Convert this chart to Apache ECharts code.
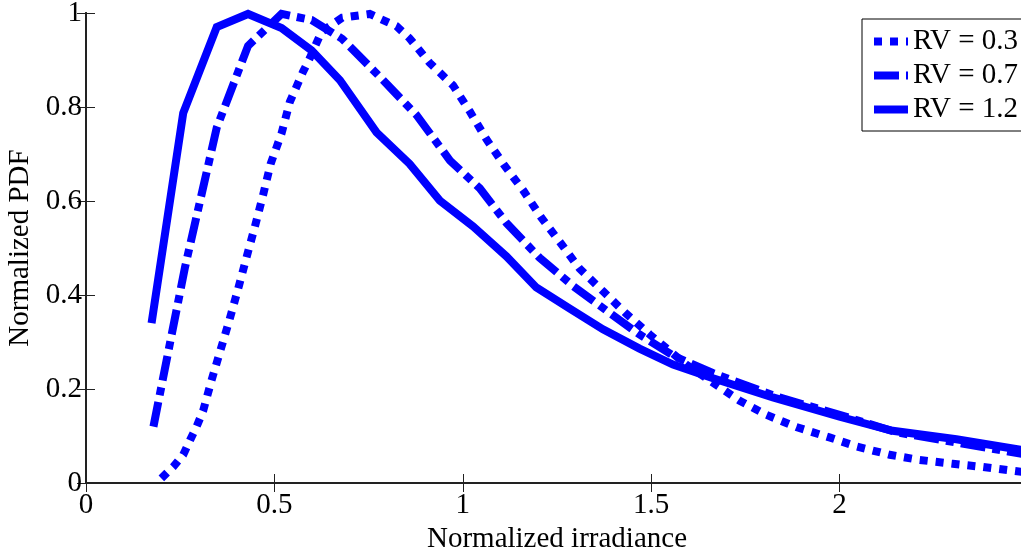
<!DOCTYPE html>
<html>
<head>
<meta charset="utf-8">
<script src="https://cdn.jsdelivr.net/npm/echarts@6/dist/echarts.min.js"></script>
<style>
html,body{margin:0;padding:0;background:#fff;}
#chart{width:1021px;height:548px;}
</style>
</head>
<body>
<div id="chart"></div>
<script>
// ---- Data ----
const seriesNames = ['RV = 0.3', 'RV = 0.7', 'RV = 1.2'];
const xTicks = [0, 0.5, 1, 1.5, 2, 2.5];
const yTicks = [0, 0.2, 0.4, 0.6, 0.8, 1];

const rv03X = [0.2, 0.232, 0.258, 0.276, 0.294, 0.311, 0.333, 0.357, 0.38, 0.404, 0.426, 0.448, 0.47, 0.49, 0.519, 0.541, 0.576, 0.594, 0.625, 0.68, 0.753, 0.824, 0.859, 0.912, 0.974, 1.019, 1.063, 1.111, 1.16, 1.209, 1.262, 1.31, 1.372, 1.434, 1.496, 1.558, 1.593, 1.735, 1.806, 1.885, 1.973, 2.044, 2.133, 2.212, 2.3, 2.38, 2.5];
const rv03Y = [0.01, 0.035, 0.06, 0.091, 0.121, 0.154, 0.218, 0.283, 0.345, 0.414, 0.48, 0.545, 0.613, 0.679, 0.744, 0.811, 0.875, 0.904, 0.96, 0.99, 0.998, 0.972, 0.946, 0.894, 0.846, 0.79, 0.731, 0.675, 0.623, 0.564, 0.508, 0.456, 0.408, 0.36, 0.316, 0.275, 0.252, 0.175, 0.145, 0.119, 0.097, 0.078, 0.06, 0.049, 0.041, 0.034, 0.022];

const rv07X = [0.179, 0.263, 0.347, 0.43, 0.519, 0.599, 0.68, 0.78, 0.877, 0.966, 1.045, 1.116, 1.204, 1.293, 1.381, 1.469, 1.558, 1.663, 1.84, 2.0, 2.15, 2.31, 2.5];
const rv07Y = [0.12, 0.46, 0.756, 0.93, 0.998, 0.985, 0.945, 0.864, 0.783, 0.686, 0.627, 0.553, 0.479, 0.419, 0.367, 0.316, 0.271, 0.234, 0.182, 0.145, 0.108, 0.086, 0.06];

const rv12X = [0.174, 0.258, 0.347, 0.43, 0.519, 0.599, 0.674, 0.771, 0.859, 0.939, 1.027, 1.116, 1.195, 1.284, 1.372, 1.469, 1.558, 1.664, 1.823, 2.0, 2.141, 2.31, 2.5];
const rv12Y = [0.34, 0.787, 0.97, 0.998, 0.968, 0.92, 0.857, 0.746, 0.679, 0.601, 0.546, 0.482, 0.416, 0.371, 0.327, 0.286, 0.252, 0.223, 0.182, 0.141, 0.111, 0.093, 0.068];

// ---- Build ----
const zip = (xs, ys) => xs.map((x, i) => [x, ys[i]]);
const FONT = 'Liberation Serif';
const FS = 29;
const BLUE = '#0000ff';
const axisLineStyle = { color: '#222', width: 2 };
const tickStyle = { color: '#222', width: 1 };

function mkSeries(name, data, type) {
  return {
    name: name, type: 'line', data: data,
    showSymbol: false, symbol: 'none',
    lineStyle: { color: BLUE, width: 8, type: type, cap: 'butt', join: 'miter' },
    itemStyle: { color: BLUE },
    emphasis: { disabled: true },
    animation: false
  };
}

const chart = echarts.init(document.getElementById('chart'));
chart.setOption({
  animation: false,
  grid: { left: 86, top: 13, bottom: 65, right: -7, outerBoundsMode: 'none', containLabel: false },
  legend: {
    orient: 'vertical', left: 862, top: 19,
    padding: [8, 30, 7, 8],
    itemWidth: 34, itemHeight: 10, itemGap: 5,
    borderColor: '#000', borderWidth: 1,
    backgroundColor: '#fff',
    itemStyle: { opacity: 0, borderWidth: 0 },
    lineStyle: { width: 8, cap: 'butt', color: BLUE },
    textStyle: { fontFamily: FONT, fontSize: FS, color: '#000', lineHeight: 29 },
    data: seriesNames
  },
  xAxis: [{
    type: 'value', min: xTicks[0], max: xTicks[xTicks.length - 1], interval: 0.5,
    name: 'Normalized irradiance', nameLocation: 'middle', nameGap: 25,
    nameTextStyle: { fontFamily: FONT, fontSize: FS, color: '#000' },
    axisLine: { show: true, lineStyle: axisLineStyle },
    axisTick: { show: true, inside: true, length: 9, lineStyle: tickStyle },
    axisLabel: { fontFamily: FONT, fontSize: FS, color: '#000', margin: 8, showMaxLabel: false },
    splitLine: { show: false }
  }, {
    type: 'value', position: 'top', min: xTicks[0], max: xTicks[xTicks.length - 1], interval: 0.5,
    axisLine: { show: true, lineStyle: axisLineStyle },
    axisTick: { show: true, inside: true, length: 9, lineStyle: tickStyle },
    axisLabel: { show: false }, splitLine: { show: false }
  }],
  yAxis: [{
    type: 'value', min: yTicks[0], max: yTicks[yTicks.length - 1], interval: 0.2,
    name: 'Normalized PDF', nameLocation: 'middle', nameGap: 44,
    nameTextStyle: { fontFamily: FONT, fontSize: FS, color: '#000' },
    axisLine: { show: true, lineStyle: axisLineStyle },
    axisTick: { show: true, inside: true, length: 9, lineStyle: tickStyle },
    axisLabel: { fontFamily: FONT, fontSize: FS, color: '#000', margin: 4 },
    splitLine: { show: false }
  }, {
    type: 'value', position: 'right', min: yTicks[0], max: yTicks[yTicks.length - 1], interval: 0.2,
    axisLine: { show: true, lineStyle: axisLineStyle },
    axisTick: { show: true, inside: true, length: 9, lineStyle: tickStyle },
    axisLabel: { show: false }, splitLine: { show: false }
  }],
  series: [
    mkSeries(seriesNames[0], zip(rv03X, rv03Y), [8, 8]),
    mkSeries(seriesNames[1], zip(rv07X, rv07Y), [25, 7, 8, 7]),
    mkSeries(seriesNames[2], zip(rv12X, rv12Y), 'solid')
  ]
});
</script>
</body>
</html>
